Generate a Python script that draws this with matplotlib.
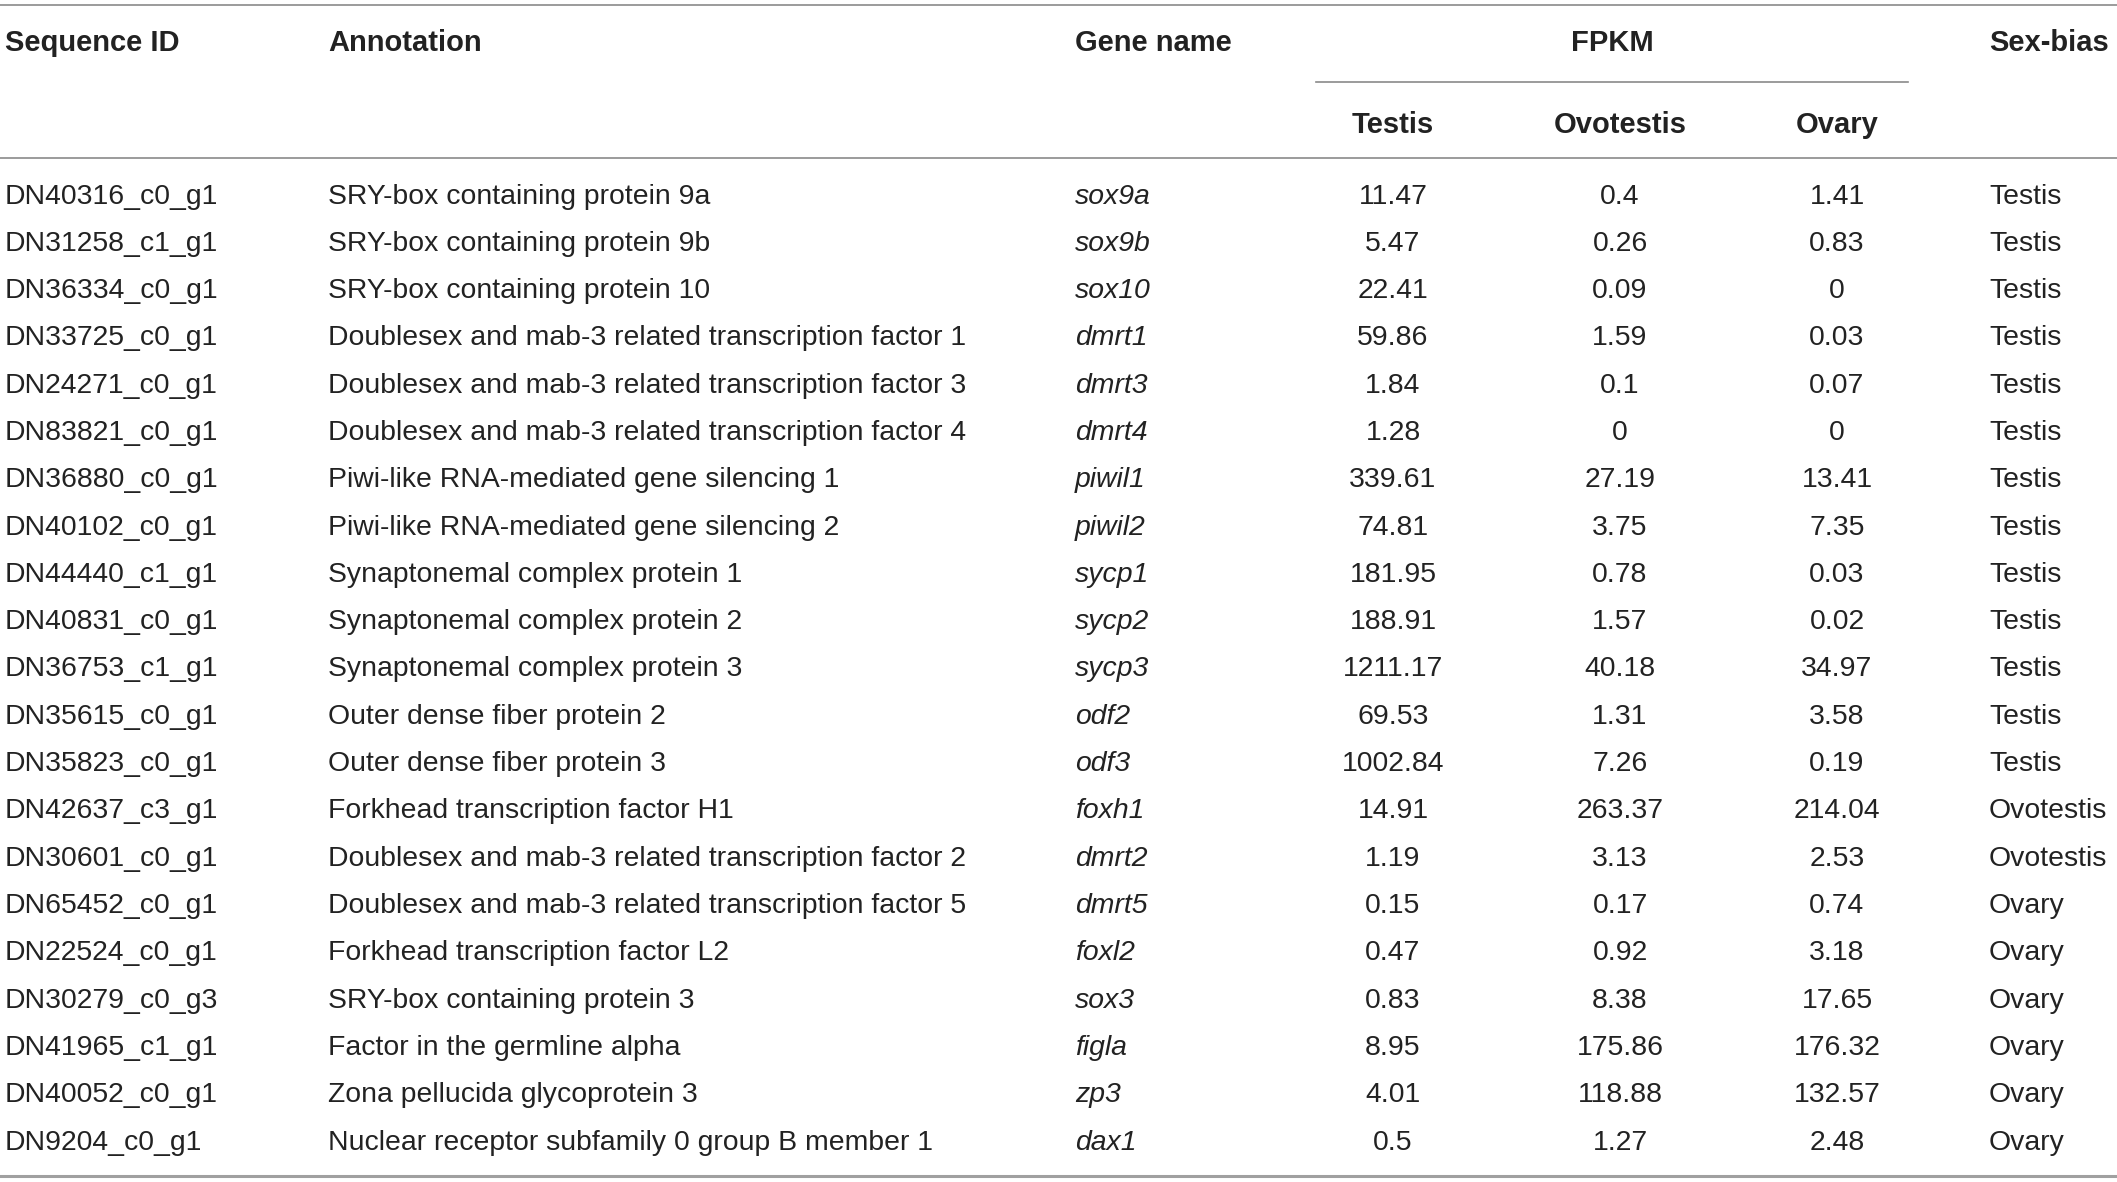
import matplotlib.pyplot as plt

# table contents
seq_ids = ["DN40316_c0_g1", "DN31258_c1_g1", "DN36334_c0_g1", "DN33725_c0_g1", "DN24271_c0_g1",
           "DN83821_c0_g1", "DN36880_c0_g1", "DN40102_c0_g1", "DN44440_c1_g1", "DN40831_c0_g1",
           "DN36753_c1_g1", "DN35615_c0_g1", "DN35823_c0_g1", "DN42637_c3_g1", "DN30601_c0_g1",
           "DN65452_c0_g1", "DN22524_c0_g1", "DN30279_c0_g3", "DN41965_c1_g1", "DN40052_c0_g1",
           "DN9204_c0_g1"]
annotations = ["SRY-box containing protein 9a", "SRY-box containing protein 9b",
               "SRY-box containing protein 10",
               "Doublesex and mab-3 related transcription factor 1",
               "Doublesex and mab-3 related transcription factor 3",
               "Doublesex and mab-3 related transcription factor 4",
               "Piwi-like RNA-mediated gene silencing 1", "Piwi-like RNA-mediated gene silencing 2",
               "Synaptonemal complex protein 1", "Synaptonemal complex protein 2",
               "Synaptonemal complex protein 3", "Outer dense fiber protein 2",
               "Outer dense fiber protein 3", "Forkhead transcription factor H1",
               "Doublesex and mab-3 related transcription factor 2",
               "Doublesex and mab-3 related transcription factor 5",
               "Forkhead transcription factor L2", "SRY-box containing protein 3",
               "Factor in the germline alpha", "Zona pellucida glycoprotein 3",
               "Nuclear receptor subfamily 0 group B member 1"]
gene_names = ["sox9a", "sox9b", "sox10", "dmrt1", "dmrt3", "dmrt4", "piwil1", "piwil2",
              "sycp1", "sycp2", "sycp3", "odf2", "odf3", "foxh1", "dmrt2", "dmrt5", "foxl2",
              "sox3", "figla", "zp3", "dax1"]
testis = [11.47, 5.47, 22.41, 59.86, 1.84, 1.28, 339.61, 74.81, 181.95, 188.91, 1211.17,
          69.53, 1002.84, 14.91, 1.19, 0.15, 0.47, 0.83, 8.95, 4.01, 0.5]
ovotestis = [0.4, 0.26, 0.09, 1.59, 0.1, 0, 27.19, 3.75, 0.78, 1.57, 40.18, 1.31, 7.26,
             263.37, 3.13, 0.17, 0.92, 8.38, 175.86, 118.88, 1.27]
ovary = [1.41, 0.83, 0, 0.03, 0.07, 0, 13.41, 7.35, 0.03, 0.02, 34.97, 3.58, 0.19, 214.04,
         2.53, 0.74, 3.18, 17.65, 176.32, 132.57, 2.48]
sex_bias = ["Testis"] * 13 + ["Ovotestis"] * 2 + ["Ovary"] * 6

W, H = 2117, 1182
fig = plt.figure(figsize=(W / 100, H / 100), dpi=100)
ax = fig.add_axes([0, 0, 1, 1])
ax.set_xlim(0, W)
ax.set_ylim(H, 0)
ax.axis("off")

plt.rcParams['font.family'] = ['Liberation Sans', 'DejaVu Sans']
fs = 20.4
txt = "#222222"
line_col = "#8a8a8a"

# column positions
x_id, x_ann, x_gene = 5, 328, 1075
x_te, x_ov, x_oy = 1393, 1620, 1837
x_sex = 1989

# header
ax.plot([0, W], [5, 5], color=line_col, lw=1.2)
hdr = dict(fontsize=21, fontweight="bold", color=txt, va="center")
ax.text(x_id, 43, "Sequence ID", ha="left", **hdr)
ax.text(x_ann, 43, "Annotation", ha="left", **hdr)
ax.text(x_gene, 43, "Gene name", ha="left", **hdr)
ax.text((1316 + 1908) / 2, 43, "FPKM", ha="center", **hdr)
ax.text(x_sex, 43, "Sex-bias", ha="left", **hdr)
ax.plot([1316, 1908], [82, 82], color=line_col, lw=1.2)
ax.text(x_te, 125, "Testis", ha="center", **hdr)
ax.text(x_ov, 125, "Ovotestis", ha="center", **hdr)
ax.text(x_oy, 125, "Ovary", ha="center", **hdr)
ax.plot([0, W], [158, 158], color=line_col, lw=1.2)

# body rows
y0, dy = 196.5, 47.3
body = dict(fontsize=fs, color=txt, va="center")
for i in range(len(seq_ids)):
    y = y0 + i * dy
    ax.text(x_id, y, seq_ids[i], ha="left", **body)
    ax.text(x_ann, y, annotations[i], ha="left", **body)
    ax.text(x_gene, y, gene_names[i], ha="left", style="italic", **body)
    ax.text(x_te, y, f"{testis[i]:g}", ha="center", **body)
    ax.text(x_ov, y, f"{ovotestis[i]:g}", ha="center", **body)
    ax.text(x_oy, y, f"{ovary[i]:g}", ha="center", **body)
    ax.text(x_sex, y, sex_bias[i], ha="left", **body)

ax.plot([0, W], [1176, 1176], color="#a0a0a0", lw=2.2)

fig.savefig("out.png", dpi=100, facecolor="white")
